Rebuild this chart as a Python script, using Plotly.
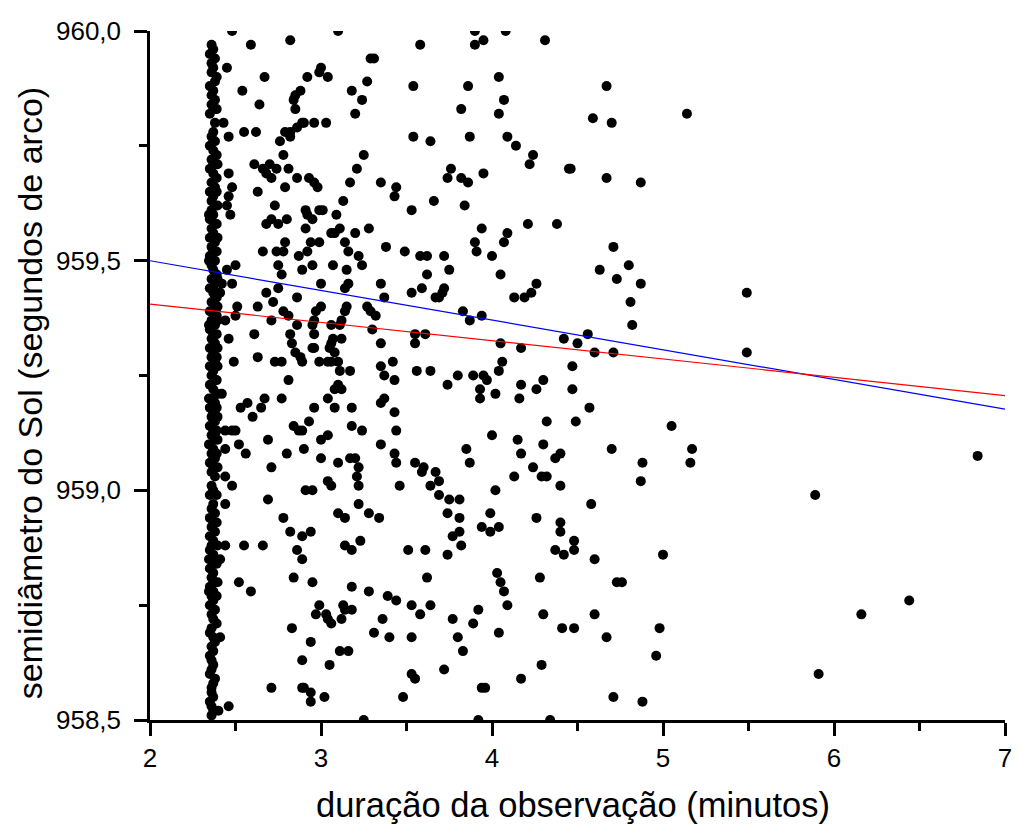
import plotly.graph_objects as go

# ---- data: (duração [min], semidiâmetro [arcsec]) ----
coluna = [
(2.36,959.97),(2.37,959.96),(2.35,959.95),(2.38,959.94),(2.36,959.93),(2.37,959.92),(2.36,959.91),(2.38,959.89),(2.35,959.88),(2.37,959.87),
(2.36,959.86),(2.38,959.85),(2.36,959.84),(2.37,959.83),(2.35,959.82),(2.38,959.80),(2.37,959.78),(2.36,959.77),(2.38,959.76),(2.35,959.75),
(2.37,959.74),(2.39,959.73),(2.36,959.72),(2.38,959.71),(2.35,959.70),(2.37,959.69),(2.39,959.68),(2.36,959.67),(2.38,959.66),(2.35,959.65),
(2.37,959.64),(2.36,959.63),(2.38,959.62),(2.36,959.61),(2.37,959.60),(2.35,959.59),(2.38,959.58),(2.36,959.57),(2.37,959.56),(2.35,959.55),
(2.38,959.54),(2.36,959.53),(2.37,959.52),(2.35,959.51),(2.38,959.50),(2.36,959.49),(2.37,959.48),(2.39,959.47),(2.36,959.46),(2.38,959.45),
(2.35,959.44),(2.37,959.43),(2.39,959.42),(2.36,959.41),(2.38,959.40),(2.35,959.39),(2.37,959.385),(2.39,959.38),(2.36,959.37),(2.38,959.36),
(2.35,959.35),(2.37,959.34),(2.36,959.33),(2.38,959.32),(2.35,959.31),(2.37,959.30),(2.36,959.29),(2.38,959.28),(2.35,959.27),(2.37,959.26),
(2.36,959.25),(2.38,959.24),(2.35,959.23),(2.37,959.22),(2.39,959.21),(2.36,959.20),(2.38,959.19),(2.35,959.18),(2.37,959.17),(2.36,959.16),
(2.38,959.15),(2.35,959.14),(2.37,959.13),(2.36,959.12),(2.38,959.11),(2.35,959.10),(2.37,959.09),(2.36,959.08),(2.38,959.07),(2.35,959.06),
(2.37,959.05),(2.36,959.04),(2.38,959.03),(2.36,959.01),(2.37,959.00),(2.35,958.99),(2.37,958.97),(2.36,958.96),(2.38,958.95),(2.35,958.94),
(2.37,958.93),(2.36,958.92),(2.38,958.91),(2.35,958.90),(2.37,958.89),(2.36,958.88),(2.35,958.87),(2.37,958.86),(2.36,958.85),(2.38,958.84),
(2.35,958.83),(2.37,958.82),(2.36,958.81),(2.38,958.80),(2.35,958.79),(2.37,958.78),(2.36,958.77),(2.37,958.76),(2.35,958.75),(2.38,958.74),
(2.36,958.73),(2.37,958.72),(2.36,958.70),(2.35,958.69),(2.37,958.68),(2.36,958.66),(2.37,958.65),(2.35,958.64),(2.36,958.63),(2.37,958.62),
(2.36,958.61),(2.35,958.60),(2.37,958.58),(2.36,958.57),(2.36,958.56),(2.37,958.55),(2.35,958.54),(2.36,958.53),(2.37,958.52),(2.36,958.51),
]

coluna_extra = [
(2.39,959.90),(2.39,959.83),(2.395,959.71),(2.39,959.65),(2.395,959.62),(2.39,959.58),(2.395,959.55),(2.39,959.52),(2.395,959.46),(2.39,959.43),
(2.395,959.40),(2.395,959.37),(2.39,959.34),(2.395,959.31),(2.39,959.29),(2.395,959.27),(2.39,959.24),(2.395,959.21),(2.39,959.18),(2.395,959.16),
(2.39,959.13),(2.395,959.11),(2.39,959.08),(2.395,959.05),(2.39,958.99),(2.39,958.93),(2.395,958.88),(2.39,958.84),(2.395,958.80),(2.39,958.77),
(2.39,958.71),(2.38,958.67),(2.38,958.59),(2.345,959.36),(2.345,959.20),(2.345,959.10),(2.345,958.85),(2.345,959.60),(2.345,959.50),(2.345,958.78),
]

pontos_superiores = [
(2.48,960.0),(3.10,960.0),(2.82,959.98),(2.59,959.97),(3.58,959.97),(3.29,959.94),(3.31,959.94),(2.45,959.92),(2.67,959.90),(2.92,959.90),
(3.00,959.92),(2.99,959.91),(3.04,959.90),(2.54,959.87),(2.64,959.84),(2.88,959.87),(2.85,959.86),(2.84,959.85),(2.85,959.83),(3.18,959.87),
(3.27,959.89),(3.24,959.85),(3.54,959.88),(3.20,959.82),(2.43,959.80),(2.46,959.77),(2.55,959.78),(2.62,959.78),(2.90,959.80),(2.89,959.80),
(2.86,959.79),(2.82,959.78),(2.79,959.78),(2.76,959.76),(2.82,959.77),(2.96,959.80),(3.03,959.80),(3.54,959.77),(3.64,959.76),(2.78,959.73),
(3.25,959.73),(3.21,959.70),(3.17,959.67),(2.61,959.71),(2.66,959.70),(2.70,959.71),(2.68,959.69),(2.71,959.68),(2.74,959.70),(2.81,959.70),
(2.86,959.68),(2.93,959.68),(2.96,959.67),(2.98,959.66),(3.35,959.67),(3.44,959.66),(3.43,959.64),(2.46,959.69),(2.48,959.66),(2.46,959.64),
(2.45,959.62),(2.47,959.60),(2.63,959.65),(2.79,959.66),(3.13,959.63),(2.73,959.62),(2.91,959.61),(2.92,959.60),(2.99,959.61),(3.01,959.61),
(2.95,959.59),(3.09,959.60),(2.71,959.59),(2.75,959.58),(2.80,959.59),(2.68,959.58),(2.91,959.57),(3.53,959.61),(3.66,959.63),(3.06,959.56),
(3.08,959.56),(3.11,959.57),(3.14,959.54),(3.20,959.56),(3.28,959.57),(2.79,959.54),(2.94,959.54),(2.99,959.54),(2.92,959.52),(2.66,959.52),
(2.74,959.52),(2.78,959.52),(2.87,959.51),(3.16,959.52),(3.22,959.51),(3.38,959.53),(3.49,959.52),(3.58,959.51),(3.62,959.51),
(3.90,960.0),(3.95,959.98),(3.90,959.97),(4.08,960.0),(4.31,959.98),(4.04,959.90),(3.86,959.88),(4.67,959.88),(4.07,959.85),(3.82,959.83),
(4.04,959.82),(4.59,959.81),(4.70,959.80),(5.14,959.82),(3.87,959.77),(4.09,959.77),(4.14,959.75),(4.24,959.73),(4.22,959.71),(3.76,959.70),
(3.74,959.68),(3.82,959.68),(3.86,959.67),(3.95,959.69),(4.46,959.70),(4.45,959.70),(4.67,959.68),(4.87,959.67),(3.84,959.62),(3.94,959.57),
(4.09,959.56),(4.21,959.58),(4.38,959.58),(3.90,959.54),(3.91,959.52),(4.07,959.54),(4.00,959.51),(4.71,959.53),(3.72,959.51),
]

pontos_centrais = [
(2.50,959.49),(2.45,959.48),(2.48,959.45),(2.42,959.45),(2.41,959.43),(2.75,959.49),(2.77,959.47),(2.89,959.48),(2.95,959.49),(3.07,959.49),
(3.15,959.48),(3.24,959.49),(3.00,959.45),(3.14,959.44),(3.16,959.45),(2.68,959.43),(2.75,959.44),(2.72,959.41),(2.86,959.42),(2.51,959.40),
(2.50,959.38),(2.63,959.40),(2.71,959.37),(2.78,959.39),(2.81,959.38),(2.86,959.36),(2.44,959.37),(3.00,959.40),(2.97,959.39),(2.96,959.37),
(2.95,959.36),(2.96,959.34),(3.15,959.40),(3.14,959.39),(3.11,959.36),(3.06,959.36),(3.12,959.37),(3.27,959.40),(3.29,959.39),(3.32,959.38),
(3.30,959.35),(3.37,959.42),(3.35,959.45),(3.53,959.43),(3.59,959.44),(3.67,959.42),(3.62,959.47),(3.55,959.34),(3.61,959.34),(3.55,959.32),
(2.61,959.34),(2.82,959.34),(2.83,959.32),(2.85,959.30),(2.89,959.28),(2.88,959.29),(2.46,959.33),(2.49,959.28),(2.63,959.29),(2.73,959.28),
(2.77,959.28),(2.96,959.31),(2.95,959.31),(2.99,959.28),(3.06,959.32),(3.07,959.33),(3.05,959.31),(3.08,959.30),(3.06,959.28),(3.04,959.28),
(3.10,959.28),(3.12,959.33),(3.11,959.26),(3.17,959.26),(3.35,959.32),(3.35,959.27),(3.37,959.25),(3.42,959.28),(3.43,959.24),(3.56,959.26),
(3.64,959.26),(2.81,959.24),(2.42,959.21),(2.53,959.18),(2.57,959.19),(2.65,959.18),(2.67,959.20),(2.60,959.16),(2.77,959.20),(2.96,959.18),
(2.93,959.15),(2.84,959.14),(2.89,959.13),(2.87,959.13),(3.04,959.20),(3.08,959.18),(3.10,959.23),(3.08,959.22),(3.12,959.22),(3.18,959.18),
(3.18,959.14),(3.24,959.13),(3.35,959.19),(3.37,959.20),(3.43,959.17),(3.44,959.13),(2.44,959.13),(2.48,959.13),(2.50,959.13),(2.52,959.10),
(2.56,959.08),(2.69,959.11),(2.80,959.08),(2.71,959.05),(2.90,959.09),(3.00,959.11),(3.04,959.12),(3.00,959.07),(2.44,959.09),(3.10,959.06),
(3.17,959.07),(3.20,959.07),(3.22,959.05),(3.21,959.03),(3.22,959.01),(3.35,959.10),(3.43,959.08),(3.44,959.06),(3.55,959.06),(3.59,959.04),
(3.60,959.05),(2.44,959.03),(2.48,959.01),(2.91,959.00),(2.95,959.00),(3.04,959.02),(3.06,959.01),(3.46,959.01),(3.64,959.01),
(3.75,959.48),(4.05,959.47),(4.63,959.48),(4.73,959.46),(4.80,959.49),(4.87,959.45),(3.72,959.44),(3.71,959.43),(3.69,959.42),(4.26,959.45),
(4.23,959.43),(4.13,959.42),(4.19,959.42),(4.81,959.41),(3.83,959.39),(3.87,959.37),(3.94,959.38),(4.82,959.36),(4.56,959.34),(4.42,959.33),
(4.50,959.32),(4.05,959.32),(4.17,959.31),(4.60,959.30),(4.71,959.30),(4.06,959.28),(4.04,959.26),(4.47,959.27),(3.80,959.25),(3.74,959.23),
(3.89,959.25),(3.95,959.25),(3.97,959.24),(3.93,959.22),(3.93,959.20),(4.02,959.21),(4.17,959.23),(4.16,959.20),(4.26,959.22),(4.30,959.24),
(4.47,959.22),(4.57,959.18),(4.32,959.15),(4.49,959.15),(5.05,959.14),(5.17,959.09),(5.16,959.06),(4.88,959.06),(4.87,959.02),(4.70,959.09),
(4.00,959.12),(3.85,959.09),(3.87,959.06),(4.15,959.11),(4.17,959.08),(4.30,959.10),(4.40,959.08),(4.37,959.07),(4.24,959.05),(4.29,959.03),
(4.32,959.03),(4.13,959.03),(4.40,959.01),(4.02,959.00),(3.67,959.04),(3.69,959.02),
]

pontos_inferiores = [
(2.44,958.97),(2.69,958.98),(2.78,958.94),(2.82,958.91),(2.89,958.90),(2.94,958.91),(3.10,958.95),(3.14,958.94),(3.22,958.97),(3.28,958.95),
(3.34,958.94),(2.44,958.88),(2.55,958.88),(2.66,958.88),(2.86,958.87),(2.89,958.85),(3.14,958.88),(3.18,958.87),(3.23,958.89),(3.51,958.87),
(3.61,958.87),(2.41,958.85),(2.52,958.80),(2.59,958.78),(2.84,958.81),(2.95,958.80),(3.18,958.79),(3.28,958.78),(3.62,958.81),(3.39,958.77),
(3.44,958.76),(3.53,958.75),(3.64,958.75),(3.58,958.73),(3.36,958.72),(2.99,958.75),(2.97,958.73),(3.03,958.73),(3.04,958.72),(3.06,958.71),
(3.13,958.75),(3.14,958.74),(3.18,958.74),(3.12,958.72),(2.83,958.70),(2.41,958.68),(2.94,958.67),(3.31,958.69),(3.40,958.68),(3.53,958.68),
(2.89,958.63),(3.05,958.62),(3.11,958.65),(3.16,958.65),(3.53,958.60),(3.55,958.59),(2.71,958.57),(2.89,958.57),(2.90,958.57),(2.94,958.56),
(2.94,958.54),(3.02,958.55),(3.48,958.55),(2.46,958.53),(2.40,958.52),(3.25,958.50),
(3.69,958.99),(3.75,958.98),(3.81,958.98),(3.74,958.95),(3.81,958.94),(3.81,958.91),(3.77,958.90),(3.82,958.88),(3.74,958.86),(3.99,958.95),
(3.94,958.92),(3.99,958.91),(4.04,958.92),(4.26,958.94),(4.40,958.93),(4.40,958.91),(4.48,958.89),(4.48,958.87),(4.37,958.87),(4.42,958.86),
(4.58,958.97),(4.60,958.85),(5.00,958.86),(4.03,958.82),(4.05,958.80),(4.07,958.78),(4.09,958.75),(4.28,958.81),(4.73,958.80),(4.76,958.80),
(3.92,958.74),(3.77,958.72),(3.89,958.71),(3.80,958.68),(3.83,958.65),(4.04,958.69),(4.30,958.73),(4.41,958.70),(4.48,958.70),(4.60,958.73),
(4.67,958.68),(4.98,958.70),(4.96,958.64),(3.72,958.61),(4.29,958.62),(4.17,958.59),(3.94,958.57),(3.96,958.57),(4.71,958.55),(4.88,958.54),
(3.92,958.50),(4.34,958.50),
]

pontos_direita = [
(5.49,959.43),(5.49,959.30),(6.84,959.075),(5.89,958.99),(6.16,958.73),(6.44,958.76),(5.91,958.60),
]

# linear fits (intercept, slope)
ajuste_azul = (959.629, -0.0646)
ajuste_vermelho = (959.485, -0.0398)
x_ajuste = [2, 7]

x_ticks = [2, 3, 4, 5, 6, 7]
y_ticks = [958.5, 959.0, 959.5, 960.0]

todos = coluna + coluna_extra + pontos_superiores + pontos_centrais + pontos_inferiores + pontos_direita
dur = [p[0] for p in todos]
semi = [p[1] for p in todos]

FONT = "Liberation Sans, Arial, sans-serif"

fig = go.Figure()
fig.add_trace(go.Scatter(
    x=dur, y=semi, mode="markers",
    marker=dict(color="black", size=10, line=dict(width=0)),
    showlegend=False, hoverinfo="skip",
))
for (b0, b1), cor in [(ajuste_azul, "#0000ff"), (ajuste_vermelho, "#ff0000")]:
    fig.add_trace(go.Scatter(
        x=x_ajuste, y=[b0 + b1 * xv for xv in x_ajuste], mode="lines",
        line=dict(color=cor, width=1.2), showlegend=False, hoverinfo="skip",
    ))

# page body has an 8px margin: size the figure to fit the 1020x827 window
fig.update_layout(
    width=1012, height=819,
    margin=dict(l=142, r=8, t=19, b=107),
    paper_bgcolor="white", plot_bgcolor="white",
    separators=",.",
    font=dict(family=FONT, color="black", size=26),
    xaxis=dict(
        range=[2, 7], tickvals=x_ticks, tickformat="d",
        showline=True, linecolor="black", linewidth=2.5, mirror=False,
        ticks="outside", ticklen=13, tickwidth=2.5, tickcolor="black",
        minor=dict(ticks="outside", ticklen=8, tickwidth=2.5, tickcolor="black", dtick=0.5, showgrid=False),
        showgrid=False, zeroline=False,
        tickfont=dict(family=FONT, size=26, color="black"),
    ),
    yaxis=dict(
        range=[958.5, 960.0], tickvals=y_ticks, tickformat=".1f",
        showline=True, linecolor="black", linewidth=2.5, mirror=False,
        ticks="outside", ticklen=13, tickwidth=2.5, tickcolor="black",
        minor=dict(ticks="outside", ticklen=8, tickwidth=2.5, tickcolor="black", dtick=0.25, showgrid=False),
        showgrid=False, zeroline=False,
        tickfont=dict(family=FONT, size=26, color="black"),
        ticklabelstandoff=8,
    ),
    annotations=[
        dict(text="duração da observação (minutos)", xref="paper", yref="paper",
             x=0.495, y=-0.124, xanchor="center", yanchor="middle", showarrow=False,
             font=dict(family=FONT, size=34.5, color="black")),
        dict(text="semidiâmetro do Sol (segundos de arco)", xref="paper", yref="paper",
             x=-0.141, y=0.475, xanchor="center", yanchor="middle", textangle=-90, showarrow=False,
             font=dict(family=FONT, size=34, color="black")),
    ],
)

fig.write_html("out.html")
